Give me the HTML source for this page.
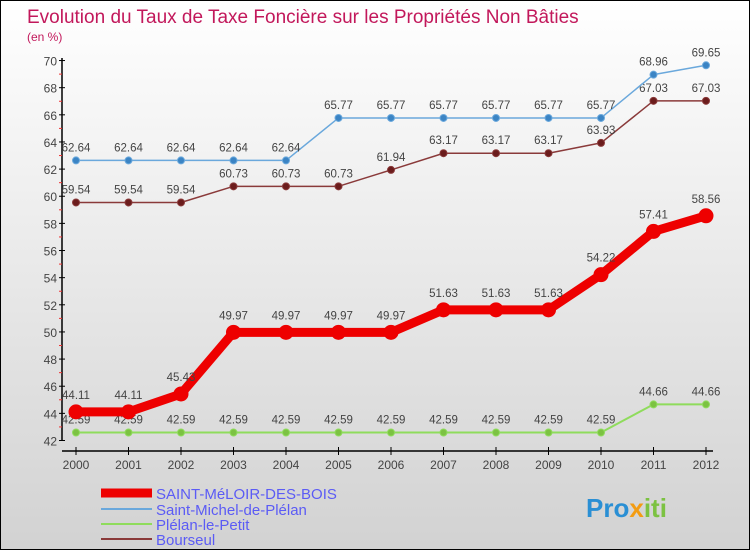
<!DOCTYPE html>
<html><head><meta charset="utf-8"><style>
body{margin:0}
#c{width:750px;height:550px;position:relative;box-sizing:border-box;border:1px solid #000;background:linear-gradient(#ffffff,#d2d2d2);overflow:hidden;font-family:"Liberation Sans",sans-serif}
svg text{font-family:"Liberation Sans",sans-serif}
</style></head><body>
<div id="c">
<svg id="s" width="750" height="550">
<text x="26" y="22" font-size="19" fill="#c2185b">Evolution du Taux de Taxe Foncière sur les Propriétés Non Bâties</text>
<text x="26" y="40" font-size="12" fill="#c2185b">(en %)</text>
<text x="585" y="516" font-size="26" font-weight="bold" fill="#2a8fd4">Pro<tspan fill="#f39c12">x</tspan><tspan fill="#7cc242">iti</tspan></text>
</svg>
</div>
<script>
const years=[2000,2001,2002,2003,2004,2005,2006,2007,2008,2009,2010,2011,2012];
const saintMeloir=[44.11,44.11,45.43,49.97,49.97,49.97,49.97,51.63,51.63,51.63,54.22,57.41,58.56];
const saintMichel=[62.64,62.64,62.64,62.64,62.64,65.77,65.77,65.77,65.77,65.77,65.77,68.96,69.65];
const plelan=[42.59,42.59,42.59,42.59,42.59,42.59,42.59,42.59,42.59,42.59,42.59,44.66,44.66];
const bourseul=[59.54,59.54,59.54,60.73,60.73,60.73,61.94,63.17,63.17,63.17,63.93,67.03,67.03];
const yTicks=[42,44,46,48,50,52,54,56,58,60,62,64,66,68,70];
const NS='http://www.w3.org/2000/svg';
const s=document.getElementById('s');
const X=i=>75+i*52.5;
const Y=v=>439.5-(v-42)*13.57;
function el(t,a,p){const e=document.createElementNS(NS,t);for(const k in a)e.setAttribute(k,a[k]);(p||s).appendChild(e);return e;}
let ax=el('line',{x1:61,y1:57,x2:61,y2:440,stroke:'#000','stroke-width':1.5});


let xa=el('line',{x1:61,y1:450,x2:712,y2:450,stroke:'#000','stroke-width':1.5});


yTicks.forEach(v=>{
  el('line',{x1:58,y1:Y(v),x2:64,y2:Y(v),stroke:'#000'});
  if(v<70)el('line',{x1:58,y1:Y(v+1),x2:61,y2:Y(v+1),stroke:'#e33'});
  const t=el('text',{x:56,y:Y(v)+5,'font-size':12,fill:'#444','text-anchor':'end'});
  t.textContent=v;
  
  
});
years.forEach((y,i)=>{
  el('line',{x1:X(i),y1:446,x2:X(i),y2:454,stroke:'#000'});
  const t=el('text',{x:X(i),y:468,'font-size':12,fill:'#444','text-anchor':'middle'});
  t.textContent=y;
  
  
});
function series(data,color,dot,w,r,name){
  const g=el('g',{});
  
  
  el('polyline',{points:data.map((v,i)=>X(i)+','+Y(v)).join(' '),fill:'none',stroke:color,'stroke-width':w,'stroke-linejoin':'round'},g);
  data.forEach((v,i)=>{
    const c=el('circle',{cx:X(i),cy:Y(v),r:r,fill:dot,stroke:color,'stroke-width':1},g);
    
    
    const t=el('text',{x:X(i),y:Y(v)-9-(r>5?4:0),'font-size':11.5,fill:'#444','text-anchor':'middle'},g);
    t.textContent=v;
    
    
  });
}
series(plelan,'#8fdc5c','#7cc242',2,3.5,'series-plelan-le-petit');
series(bourseul,'#8a3a3a','#6b1c1c',1.5,3.5,'series-bourseul');
series(saintMichel,'#6aa8dc','#3b84c4',1.5,3.5,'series-saint-michel-de-plelan');
series(saintMeloir,'#ee0000','#ee0000',9,7,'series-saint-meloir-des-bois');
const legNames=['SAINT-MéLOIR-DES-BOIS','Saint-Michel-de-Plélan','Plélan-le-Petit','Bourseul'];
const legCol=['#ee0000','#6aa8dc','#8fdc5c','#8a3a3a'];
const legW=[9,2,2,2];
const legY=[492,508,523,538];
legNames.forEach((n,i)=>{
  const g=el('g',{});
  
  
  el('line',{x1:100,y1:legY[i],x2:151,y2:legY[i],stroke:legCol[i],'stroke-width':legW[i]},g);
  const t=el('text',{x:155,y:legY[i]+6,'font-size':15,fill:'#5b5bf5'},g);
  t.textContent=n;
});
</script>
</body></html>
